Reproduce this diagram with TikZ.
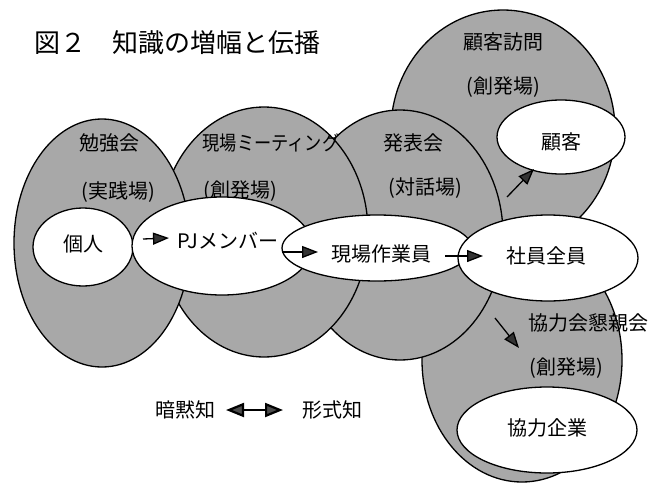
\documentclass[tikz,border=0pt]{standalone}
\usepackage{fontspec}
\usepackage{graphicx}
\newfontfamily\jp{Noto Sans CJK JP}
\usetikzlibrary{shapes.geometric,arrows.meta}
\definecolor{zonegray}{gray}{0.66}
\begin{document}
\begin{tikzpicture}[x=1pt,y=-1pt,
  zone/.style={ellipse,draw=black,line width=1.3pt,fill=zonegray,inner sep=0pt},
  wnode/.style={ellipse,draw=black,line width=1.3pt,fill=white,inner sep=0pt},
  lbl/.style={font=\jp\fontsize{20}{22}\selectfont,inner sep=0pt},
  arr/.style={line width=1.3pt,-{Triangle[length=16pt,width=12pt,fill=black!80]}},
  larr/.style={line width=2.2pt,{Triangle[length=18pt,width=14pt,fill=black!70]}-{Triangle[length=18pt,width=14pt,fill=black!70]}}]
\useasboundingbox[fill=white] (0,0) rectangle (664,493);

% title
\node[anchor=west,inner sep=0pt,font=\jp\fontsize{26}{28}\selectfont] (title) at (34,43) {図２　知識の増幅と伝播};

% grey zones (back to front)
\node[zone,minimum width=224pt,minimum height=240pt] (D) at (503,130) {};
\node[zone,minimum width=200pt,minimum height=244pt] (E) at (522,360) {};
\node[zone,minimum width=206pt,minimum height=250pt] (C) at (400,235) {};
\node[zone,minimum width=208pt,minimum height=250pt] (B) at (264,232) {};
\node[zone,minimum width=176pt,minimum height=248pt] (A) at (102,243) {};

% zone labels
\node[lbl] (tA) at (109,143) {勉強会};
\node[lbl] (tA2) at (118,192) {(実践場)};
\node[lbl] (tB) at (271,143) {\scalebox{0.86}[1]{現場ミーティング}};
\node[lbl] (tB2) at (240,191) {(創発場)};
\node[lbl] (tC) at (413,143) {発表会};
\node[lbl] (tC2) at (425,188) {(対話場)};
\node[lbl] (tD) at (503,42) {顧客訪問};
\node[lbl] (tD2) at (503,87) {(創発場)};
\node[lbl] (tE) at (588,323) {協力会懇親会};
\node[lbl] (tE2) at (566,368) {(創発場)};

% white ellipses
\node[wnode,minimum width=100pt,minimum height=78pt] (kojin) at (83,247) {};
\node[wnode,minimum width=180pt,minimum height=98pt] (pj) at (222,246) {};
\node[wnode,minimum width=190pt,minimum height=66pt] (genba) at (377,248) {};
\node[wnode,minimum width=180pt,minimum height=86pt] (shain) at (548,258) {};
\node[wnode,minimum width=128pt,minimum height=74pt] (kokyaku) at (561,137) {};
\node[wnode,minimum width=180pt,minimum height=86pt] (kyoryoku) at (547,430) {};

% white ellipse texts
\node[lbl] (tk) at (83,244) {個人};
\node[lbl] (tpj) at (228,241) {PJメンバー};
\node[lbl] (tg) at (381,254) {現場作業員};
\node[lbl] (ts) at (546,256) {社員全員};
\node[lbl] (tky) at (561,142) {顧客};
\node[lbl] (tkr) at (547,428) {協力企業};

% arrows
\coordinate (a1s) at (143,239); \coordinate (a1e) at (169,238);
\coordinate (a2s) at (282,252); \coordinate (a2e) at (318,252);
\coordinate (a3s) at (445,256); \coordinate (a3e) at (483,256);
\coordinate (a4s) at (507,197); \coordinate (a4e) at (534,169);
\coordinate (a5s) at (495,318); \coordinate (a5e) at (519,348);
\draw[arr] (a1s) -- (a1e);
\draw[arr] (a2s) -- (a2e);
\draw[arr] (a3s) -- (a3e);
\draw[arr] (a4s) -- (a4e);
\draw[arr] (a5s) -- (a5e);

% legend
\node[lbl] (tacit) at (185,410) {暗黙知};
\node[lbl] (explicit) at (332,410) {形式知};
\coordinate (l1) at (226,410); \coordinate (l2) at (283,410);
\draw[larr] (l1) -- (l2);
\end{tikzpicture}
\end{document}
